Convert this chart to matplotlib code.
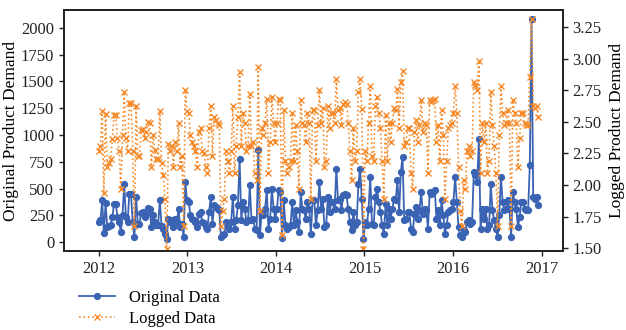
import numpy as np
import pandas as pd
import matplotlib
matplotlib.use('Agg')
import matplotlib.pyplot as plt

plt.rcParams['font.family'] = ['Liberation Serif', 'DejaVu Serif']
plt.rcParams['font.size'] = 12

# 周度需求数据（2012-01-01 起，每周一个值）
demand_2012_2013 = [
    187, 203, 389, 86, 364, 140, 150, 160, 230, 358, 360, 234, 187, 93, 250, 545,
    234, 187, 450, 450, 187, 47, 420, 171, 171, 275, 280, 234, 265, 315, 308, 140,
    250, 190, 160, 160, 389, 150, 120, 77, 31, 213, 187, 203, 140, 218, 187, 308,
    140, 171, 47, 561, 389, 374, 249, 218, 203, 187, 140, 265, 281, 187, 180, 140,
    125, 281, 420, 171, 343, 327, 312, 296, 47, 62, 78, 187, 156, 125, 187, 420,
    125, 203, 343, 779, 203, 374, 312, 187, 203, 530, 203, 218, 125, 109, 856,
]
demand_2014 = [
    62, 281, 249, 312, 483, 125, 218, 499, 312, 218, 312, 483, 467, 40, 390, 156,
    125, 140, 156, 374, 156, 296, 187, 93, 467, 312, 296, 218, 374, 312, 78, 390,
    390,
]
demand_2015 = [
    156, 296, 561, 312, 405, 140, 156, 421, 281, 374, 374, 312, 685, 390, 405, 296,
    436, 452, 436, 312, 187, 109, 281, 156, 187, 545, 685, 400, 31, 187, 156, 312,
    608,
]
demand_2015b = [
    171, 156, 421, 499, 374, 281, 156, 78, 358, 156, 312, 218, 312, 405, 390, 577,
    281, 654, 794, 203, 218, 281, 281, 125, 93, 265, 327, 218, 296, 467, 265, 312,
]
demand_2016 = [
    296, 125, 467, 452, 467, 483, 218, 296, 156, 390, 249, 78, 156, 281, 296, 312,
    374, 608, 374, 140, 62, 47, 109, 93, 187, 203, 171, 187, 654, 623, 561, 965,
    125, 312,
]
demand_2016b = [
    218, 312, 125, 156, 545, 296, 203, 125, 47, 249, 608, 374, 296, 312, 390, 312,
    47, 467, 374, 312, 140, 234, 374, 374, 312, 296, 296, 716, 2080, 421, 405, 421,
    343,
]

original = np.array(demand_2012_2013 + demand_2014 + demand_2015 + demand_2015b
                    + demand_2016 + demand_2016b, dtype=float)
dates = pd.date_range('2012-01-01', periods=len(original), freq='7D')
logged = np.log10(original)

fig, ax1 = plt.subplots(figsize=(6.26, 3.3), dpi=100)
fig.subplots_adjust(left=0.102, right=0.899, top=0.97, bottom=0.239)
ax2 = ax1.twinx()

l1, = ax1.plot(dates, original, color='#3a63b3', marker='o', markersize=4.2,
               linewidth=1.3, label='Original Data')
l2, = ax2.plot(dates, logged, color='#f58a2a', marker='x', markersize=4,
               linestyle=':', linewidth=1.2, label='Logged Data')

ax1.set_ylim(-84, 2168)
ax1.set_yticks(np.arange(0, 2001, 250))
ax2.set_ylim(1.476, 3.387)
ax2.set_yticks(np.arange(1.5, 3.26, 0.25))
ax2.yaxis.set_major_formatter(matplotlib.ticker.FormatStrFormatter('%.2f'))
ax1.set_xlim(pd.Timestamp('2011-08-10'), pd.Timestamp('2017-03-29'))
ax1.set_xticks(pd.to_datetime(['%d-01-01' % y for y in range(2012, 2018)]))
ax1.set_xticklabels([str(y) for y in range(2012, 2018)])

ax1.set_ylabel('Original Product Demand', fontsize=12.5, labelpad=1)
ax2.set_ylabel('Logged Product Demand', fontsize=12.5, labelpad=5)

for ax in (ax1, ax2):
    for sp in ax.spines.values():
        sp.set_color('#222222')
        sp.set_linewidth(1.3)
    ax.tick_params(direction='out', length=3.5, width=1, colors='#222222',
                   labelsize=12)

fig.legend(handles=[l1, l2], loc='upper left', bbox_to_anchor=(0.115, 0.142),
           frameon=False, fontsize=12, handlelength=2.2, borderaxespad=0,
           labelspacing=0.3)

fig.savefig('out.png', dpi=100)
